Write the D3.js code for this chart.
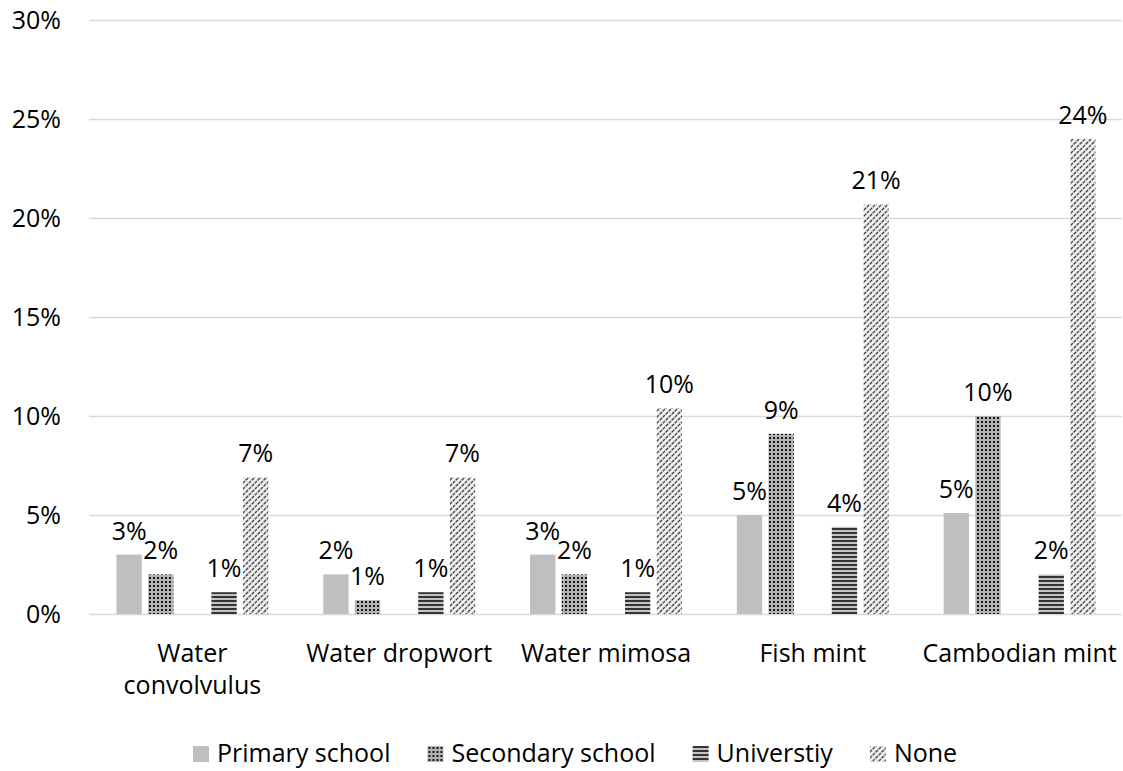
<!DOCTYPE html>
<html>
<head>
<meta charset="utf-8">
<script src="https://cdn.jsdelivr.net/npm/d3@7/dist/d3.min.js"></script>
<style>
  html, body { margin: 0; padding: 0; background: #ffffff; }
  svg { display: block; }
  text { font-family: "Open Sans", "Noto Sans", sans-serif; fill: #000; }
</style>
</head>
<body>
<svg id="chart" width="1123" height="771"></svg>
<script>
// Share of respondents per herb, by education level
const categories = ["Water convolvulus", "Water dropwort", "Water mimosa", "Fish mint", "Cambodian mint"];
const seriesNames = ["Primary school", "Secondary school", "Universtiy", "None"];
const primary    = [0.030, 0.020, 0.030, 0.050, 0.051];
const secondary  = [0.020, 0.007, 0.020, 0.091, 0.100];
const university = [0.011, 0.011, 0.011, 0.044, 0.020];
const none       = [0.069, 0.069, 0.104, 0.207, 0.240];
const yTicks = [0, 0.05, 0.10, 0.15, 0.20, 0.25, 0.30];

const seriesValues = [primary, secondary, university, none];
// the third slot of each group is left empty between secondary school and university
const slots = ["Primary school", "Secondary school", "", "Universtiy", "None"];

const svg = d3.select("#chart");
const fmt = d3.format(".0%");
const FONT = 25;

const plot = { left: 89, right: 1123, top: 20, bottom: 614 };

const x0 = d3.scaleBand().domain(categories).range([plot.left, plot.right])
  .paddingInner(0.235).paddingOuter(0.1175);
const x1 = d3.scaleBand().domain(slots).range([0, x0.bandwidth()])
  .paddingInner(0.2).paddingOuter(0.1);
const y = d3.scaleLinear().domain([0, 0.30]).range([plot.bottom, plot.top]);

// fill patterns
const defs = svg.append("defs");

const dots = defs.append("pattern").attr("id", "pat-dots")
  .attr("patternUnits", "userSpaceOnUse").attr("width", 4).attr("height", 4);
dots.append("rect").attr("width", 4).attr("height", 4).attr("fill", "#b4b4b4");
dots.append("rect").attr("x", 1).attr("y", 1).attr("width", 2).attr("height", 2).attr("fill", "#151515");

const stripes = defs.append("pattern").attr("id", "pat-stripes")
  .attr("patternUnits", "userSpaceOnUse").attr("width", 8).attr("height", 4);
stripes.append("rect").attr("width", 8).attr("height", 4).attr("fill", "#c4c4c4");
stripes.append("rect").attr("y", 0).attr("width", 8).attr("height", 2).attr("fill", "#333333");

const hatch = defs.append("pattern").attr("id", "pat-hatch")
  .attr("patternUnits", "userSpaceOnUse").attr("width", 6).attr("height", 6);
hatch.append("rect").attr("width", 6).attr("height", 6).attr("fill", "#f2f2f2");
hatch.append("path").attr("d", "M0,6 L6,0 M-1,1 L1,-1 M5,7 L7,5")
  .attr("stroke", "#4d4d4d").attr("stroke-width", 1.5).attr("stroke-dasharray", "3,1");

const fills = {
  "Primary school": "#bfbfbf",
  "Secondary school": "url(#pat-dots)",
  "Universtiy": "url(#pat-stripes)",
  "None": "url(#pat-hatch)"
};

// gridlines and y axis labels
const yAxis = d3.axisLeft(y).tickValues(yTicks).tickFormat(fmt)
  .tickSize(-(plot.right - 1 - plot.left)).tickPadding(28);
const gy = svg.append("g").attr("transform", `translate(${plot.left},0)`).call(yAxis);
gy.select(".domain").remove();
gy.selectAll(".tick line").attr("stroke", "#d9d9d9").attr("stroke-width", 1.5);
gy.selectAll(".tick text").attr("font-size", FONT).attr("font-family", "Open Sans")
  .attr("fill", "#000");

// bars
const rows = [];
seriesNames.forEach((s, si) => {
  categories.forEach((c, ci) => rows.push({ series: s, category: c, value: seriesValues[si][ci] }));
});

svg.append("g").selectAll("rect").data(rows).join("rect")
  .attr("x", d => x0(d.category) + x1(d.series))
  .attr("width", x1.bandwidth())
  .attr("y", d => y(d.value))
  .attr("height", d => y(0) - y(d.value))
  .attr("fill", d => fills[d.series]);

// value labels
svg.append("g").selectAll("text").data(rows).join("text")
  .attr("x", d => x0(d.category) + x1(d.series) + x1.bandwidth() / 2)
  .attr("y", d => y(d.value) - 15)
  .attr("text-anchor", "middle")
  .attr("font-size", FONT)
  .text(d => fmt(d.value));

// category axis, wrapping long names onto a second line
const xAxis = d3.axisBottom(x0).tickSize(0).tickPadding(0);
const gx = svg.append("g").attr("transform", `translate(0,${plot.bottom})`).call(xAxis);
gx.select(".domain").remove();
gx.selectAll(".tick text")
  .attr("font-size", FONT).attr("font-family", "Open Sans").attr("fill", "#000")
  .attr("dy", null).attr("y", 48)
  .each(function (name) {
    const t = d3.select(this);
    const words = name.split(" ");
    t.text(name);
    if (this.getComputedTextLength() > x0.step()) {
      t.text(null);
      t.append("tspan").attr("x", 0).attr("y", 48).text(words.slice(0, -1).join(" "));
      t.append("tspan").attr("x", 0).attr("y", 80).text(words[words.length - 1]);
    }
  });

// legend
const legend = svg.append("g").attr("transform", "translate(193,746)");
let lx = 0;
seriesNames.forEach(s => {
  const item = legend.append("g").attr("transform", `translate(${lx},0)`);
  item.append("rect").attr("width", 16).attr("height", 16).attr("fill", fills[s]);
  const t = item.append("text").attr("x", 24).attr("y", 16).attr("font-size", FONT).text(s);
  lx += 24 + t.node().getComputedTextLength() + 37;
});
</script>
</body>
</html>
